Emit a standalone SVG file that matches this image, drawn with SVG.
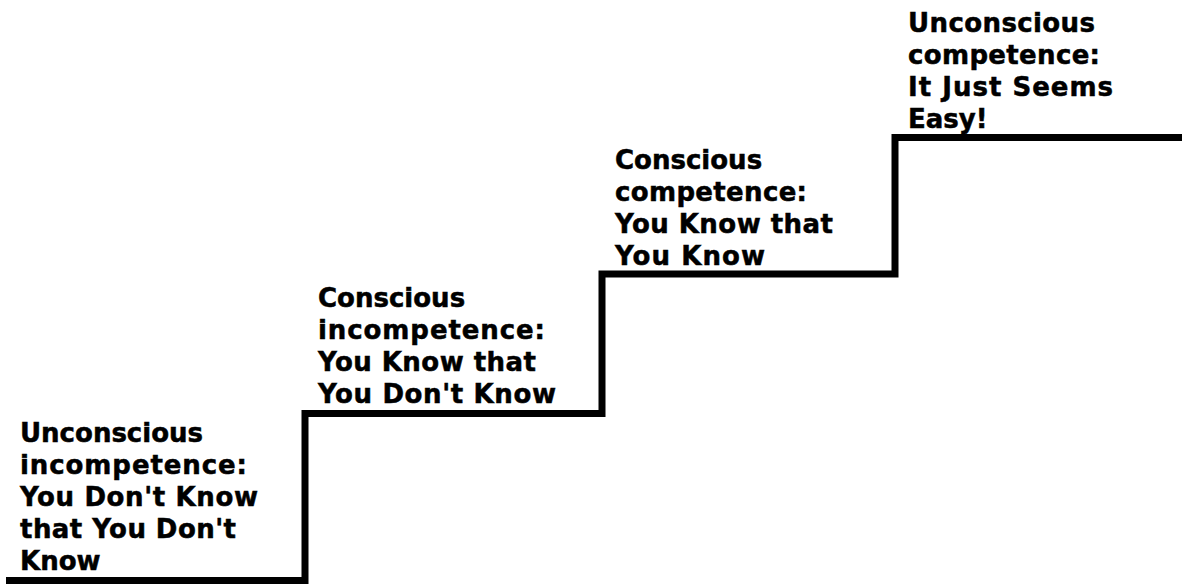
<svg xmlns="http://www.w3.org/2000/svg" width="1182" height="584" viewBox="0 0 1182 584">
<style>
  .lbl { font-family: "DejaVu Sans", Verdana, sans-serif; font-weight: bold; font-size: 26px; fill: #000; stroke: #000; stroke-width: 0.5; }
  .stair { fill: none; stroke: #000; stroke-width: 7; stroke-linejoin: miter; }
</style>
<rect width="1182" height="584" fill="#fff"/>
<g id="connectors">
  <path class="stair" d="M6 580.5 H305 V413.5 H602 V274 H895 V137.5 H1182"/>
</g>
<g id="step1">
  <text class="lbl" x="20" y="442" textLength="183" lengthAdjust="spacing">Unconscious</text>
  <text class="lbl" x="20" y="474" textLength="227" lengthAdjust="spacing">incompetence:</text>
  <text class="lbl" x="20" y="506" textLength="238" lengthAdjust="spacing">You Don't Know</text>
  <text class="lbl" x="20" y="538" textLength="216" lengthAdjust="spacing">that You Don't</text>
  <text class="lbl" x="20" y="570">Know</text>
</g>
<g id="step2">
  <text class="lbl" x="318" y="307">Conscious</text>
  <text class="lbl" x="318" y="339" textLength="227" lengthAdjust="spacing">incompetence:</text>
  <text class="lbl" x="318" y="371" textLength="218" lengthAdjust="spacing">You Know that</text>
  <text class="lbl" x="318" y="403" textLength="238" lengthAdjust="spacing">You Don't Know</text>
</g>
<g id="step3">
  <text class="lbl" x="615" y="169">Conscious</text>
  <text class="lbl" x="615" y="201" textLength="192" lengthAdjust="spacing">competence:</text>
  <text class="lbl" x="615" y="233" textLength="218" lengthAdjust="spacing">You Know that</text>
  <text class="lbl" x="615" y="265" textLength="150" lengthAdjust="spacing">You Know</text>
</g>
<g id="step4">
  <text class="lbl" x="908" y="32" textLength="187" lengthAdjust="spacing">Unconscious</text>
  <text class="lbl" x="908" y="64" textLength="192" lengthAdjust="spacing">competence:</text>
  <text class="lbl" x="908" y="96" textLength="205" lengthAdjust="spacing">It Just Seems</text>
  <text class="lbl" x="908" y="128">Easy!</text>
</g>
</svg>
